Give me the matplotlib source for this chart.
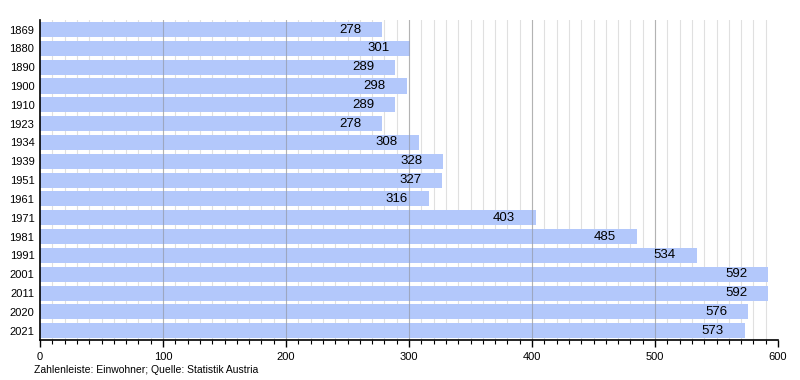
import matplotlib.pyplot as plt
import numpy as np

plt.rcParams['font.family'] = ['Liberation Sans', 'DejaVu Sans']

years = ['1869', '1880', '1890', '1900', '1910', '1923', '1934', '1939', '1951',
         '1961', '1971', '1981', '1991', '2001', '2011', '2020', '2021']
population = [278, 301, 289, 298, 289, 278, 308, 328, 327, 316, 403, 485, 534,
              592, 592, 576, 573]

fig = plt.figure(figsize=(8, 3.8), dpi=100)
ax = fig.add_axes([0.05, 0.105, 0.9225, 0.842])

y = np.arange(len(years))
ax.set_xlim(0, 600)
ax.set_ylim(len(years) - 0.5, -0.5)

# grid lines
for gx in range(10, 600, 10):
    ax.axvline(gx, color='#e0e0e0', linewidth=0.8, zorder=0)
ax.barh(y, population, height=0.8, color='#b3c8fb', zorder=1)
for gx in range(100, 600, 100):
    ax.axvline(gx, color='#888888', linewidth=0.8, alpha=0.5, zorder=2)

for yi, v in zip(y, population):
    ax.text(v - 17, yi, str(v), ha='right', va='center', fontsize=9.5, zorder=3)

ax.set_yticks(y)
ax.set_yticklabels(years, fontsize=8)
ax.set_xticks(range(0, 601, 100))
ax.set_xticks(range(0, 601, 10), minor=True)
ax.tick_params(axis='x', labelsize=8, length=5, width=1, direction='out')
ax.tick_params(axis='x', which='minor', length=3, width=0.8)
ax.tick_params(axis='y', length=0, pad=4)

for s in ['top', 'right']:
    ax.spines[s].set_visible(False)
ax.spines['left'].set_linewidth(1.2)
ax.spines['bottom'].set_linewidth(1.2)

fig.text(0.043, 0.018, 'Zahlenleiste: Einwohner; Quelle: Statistik Austria', fontsize=7.5)

fig.savefig('out.png', dpi=100)
